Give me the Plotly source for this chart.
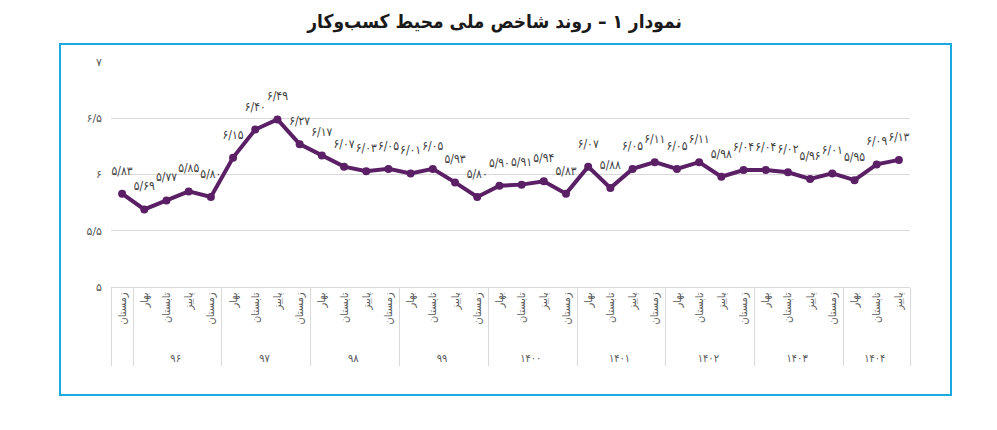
#!/usr/bin/env python3
"""
National business environment index trend (Persian labels)
"""

import plotly.graph_objects as go

# data
years = [" "] + ["۹۶"] * 4 + ["۹۷"] * 4 + ["۹۸"] * 4 + ["۹۹"] * 4 + \
    ["۱۴۰۰"] * 4 + ["۱۴۰۱"] * 4 + ["۱۴۰۲"] * 4 + ["۱۴۰۳"] * 4 + ["۱۴۰۴"] * 3
seasons_cycle = ["بهار", "تابستان", "پاییز", "زمستان"]
# the lone first-quarter label carries a zero-width non-joiner so that plotly
# does not reorder the seasons inside every later year group
seasons = ["زمستان\u200c"] + seasons_cycle * 8 + seasons_cycle[:3]
values = [
    5.83,
    5.69, 5.77, 5.85, 5.80,
    6.15, 6.40, 6.49, 6.27,
    6.17, 6.07, 6.03, 6.05,
    6.01, 6.05, 5.93, 5.80,
    5.90, 5.91, 5.94, 5.83,
    6.07, 5.88, 6.05, 6.11,
    6.05, 6.11, 5.98, 6.04,
    6.04, 6.02, 5.96, 6.01,
    5.95, 6.09, 6.13,
]
y_ticks = [5, 5.5, 6, 6.5, 7]
y_tick_text = ["۵", "۵/۵", "۶", "۶/۵", "۷"]

FA_DIGITS = str.maketrans("0123456789.", "۰۱۲۳۴۵۶۷۸۹/")
PURPLE = "#5B1F66"


def fa(num, fmt="{:.2f}"):
    return fmt.format(num).translate(FA_DIGITS)


def make_fig():
    fig = go.Figure()

    # padding (nbsp) at the far end of the rotated labels pushes years lower
    season_labels = ["\u00a0" * 5 + s for s in seasons]

    fig.add_trace(go.Scatter(
        x=[years, season_labels],
        y=values,
        mode="lines+markers",
        line=dict(color=PURPLE, width=4),
        marker=dict(color=PURPLE, size=8),
        hoverinfo="skip",
    ))

    # value labels, lifted above the line by a big invisible marker
    fig.add_trace(go.Scatter(
        x=[years, season_labels],
        y=values,
        mode="markers+text",
        marker=dict(color="rgba(0,0,0,0)", size=24),
        text=[fa(v) for v in values],
        textposition="top center",
        textfont=dict(family="DejaVu Sans Condensed", size=12, color="#404040"),
        cliponaxis=False,
        hoverinfo="skip",
    ))

    fig.update_layout(
        width=989, height=422,
        margin=dict(l=103, r=87, t=54, b=143),
        paper_bgcolor="white",
        plot_bgcolor="white",
        showlegend=False,
        font=dict(family="DejaVu Sans", color="#595959"),
        title=dict(
            text="<b>نمودار ۱ – روند شاخص ملی محیط کسب‌وکار</b>",
            x=0.492, xanchor="center",
            y=0.968, yanchor="middle",
            font=dict(family="DejaVu Sans Condensed", size=19, color="#1a1a1a"),
        ),
    )

    fig.update_yaxes(
        range=[5, 7],
        tickvals=y_ticks,
        ticktext=y_tick_text,
        showgrid=True,
        gridcolor="#D9D9D9",
        gridwidth=1,
        zeroline=False,
        showline=False,
        ticks="",
        ticklabelstandoff=8,
        tickfont=dict(size=11, color="#595959"),
    )

    fig.update_xaxes(
        type="multicategory",
        range=[-0.5, len(values) - 0.5],
        showline=True,
        linecolor="#D9D9D9",
        linewidth=1,
        showgrid=False,
        ticks="",
        tickangle=-90,
        tickfont=dict(family="DejaVu Sans Condensed", size=11, color="#595959"),
        showdividers=True,
        dividercolor="#D9D9D9",
        dividerwidth=1,
        automargin=False,
    )

    # outer frame around the chart
    fig.add_shape(
        type="rect", xref="paper", yref="paper",
        x0=-0.0638, x1=1.0513, y0=-0.48, y1=1.08,
        line=dict(color="#1BA9E1", width=2),
        fillcolor="rgba(0,0,0,0)",
    )

    return fig


def main():
    fig = make_fig()
    fig.write_html("out.html")


if __name__ == "__main__":
    main()
